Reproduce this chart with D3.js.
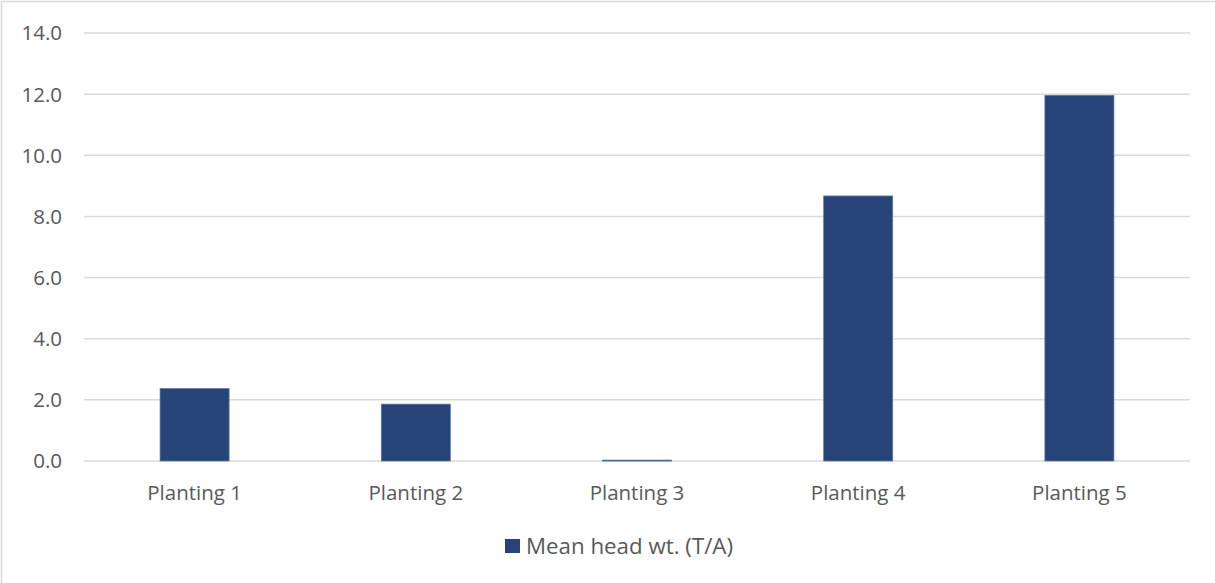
<!DOCTYPE html>
<html>
<head>
<meta charset="utf-8">
<script src="https://cdn.jsdelivr.net/npm/d3@7"></script>
<style>
  html, body { margin: 0; padding: 0; background: #fff; }
  svg { display: block; }
  text { font-family: "Open Sans", "Noto Sans", sans-serif; fill: #595959; }
</style>
</head>
<body>
<script>
// Mean head weight per planting
const categories = ["Planting 1", "Planting 2", "Planting 3", "Planting 4", "Planting 5"];
const meanHeadWt = [2.37, 1.86, 0.03, 8.67, 11.96];
const yTicks = [0, 2, 4, 6, 8, 10, 12, 14];
const seriesName = "Mean head wt. (T/A)";

const W = 1215, H = 583;
const plot = { left: 84, right: 1190, top: 33, bottom: 461 };
const fontSize = 20.5;
const legendFontSize = 22.3;

const svg = d3.select("body").append("svg").attr("width", W).attr("height", H);

// chart frame
svg.append("rect")
  .attr("x", 1.5).attr("y", 1.5)
  .attr("width", W + 10).attr("height", H + 10)
  .attr("fill", "#fff").attr("stroke", "#d9d9d9").attr("stroke-width", 1.5);

const x = d3.scaleBand().domain(categories).range([plot.left, plot.right]).paddingInner(0).paddingOuter(0);
const y = d3.scaleLinear().domain([0, 14]).range([plot.bottom, plot.top]);

// horizontal gridlines
svg.append("g").selectAll("line").data(yTicks).join("line")
  .attr("x1", plot.left).attr("x2", plot.right)
  .attr("y1", d => y(d)).attr("y2", d => y(d))
  .attr("stroke", "#d9d9d9").attr("stroke-width", 1.5);

// y tick labels
svg.append("g").selectAll("text").data(yTicks).join("text")
  .attr("x", 62).attr("y", d => y(d)).attr("dy", "0.36em")
  .attr("text-anchor", "end").attr("font-size", fontSize)
  .text(d => d.toFixed(1));

// bars
const barW = x.bandwidth() * 0.312;
svg.append("g").selectAll("rect").data(meanHeadWt).join("rect")
  .attr("x", (d, i) => x(categories[i]) + (x.bandwidth() - barW) / 2)
  .attr("width", barW)
  .attr("y", d => y(d))
  .attr("height", d => Math.max(1, y(0) - y(d)))
  .attr("fill", "#264478")
  .attr("stroke", "#5b76a4").attr("stroke-width", 0.75);

// x labels
svg.append("g").selectAll("text").data(categories).join("text")
  .attr("x", d => x(d) + x.bandwidth() / 2).attr("y", 500)
  .attr("text-anchor", "middle").attr("font-size", fontSize)
  .text(d => d);

// legend
const leg = svg.append("g");
leg.append("rect").attr("x", 505).attr("y", 539).attr("width", 15).attr("height", 14).attr("fill", "#264478");
leg.append("text").attr("x", 526).attr("y", 554).attr("font-size", legendFontSize).text(seriesName);
</script>
</body>
</html>
